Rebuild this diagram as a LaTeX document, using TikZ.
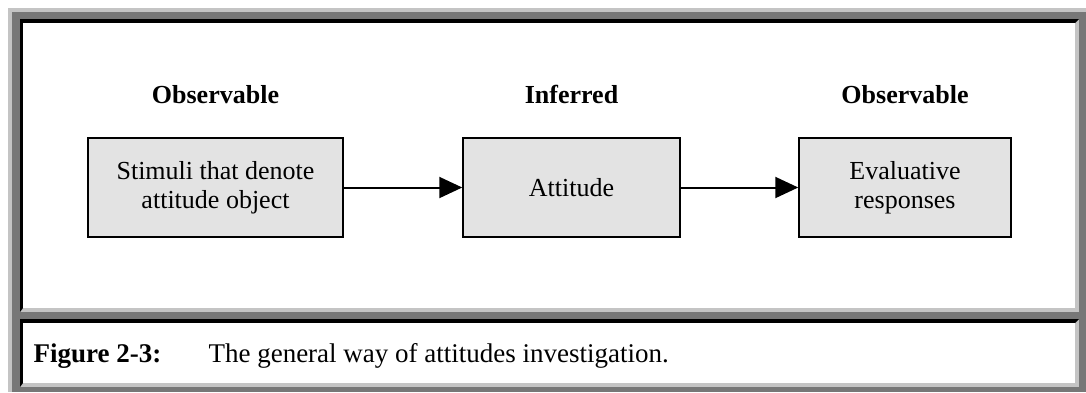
\documentclass[tikz,border=0pt]{standalone}
\usepackage{fontspec}
\setmainfont{Liberation Serif}
\usetikzlibrary{arrows.meta}
\definecolor{frameshade}{HTML}{777777}
\definecolor{framelight}{HTML}{C4C4C4}
\definecolor{boxfill}{HTML}{E3E3E3}

\begin{document}
\begin{tikzpicture}[x=1pt,y=-1pt,
  stagebox/.style={draw=black, line width=1.5pt, fill=boxfill, align=center,
    font=\fontsize{26}{29}\selectfont, inner sep=0pt, minimum height=99pt},
  heading/.style={font=\fontsize{26}{29}\selectfont\bfseries, anchor=base},
  captext/.style={font=\fontsize{27}{30}\selectfont, anchor=base west},
  flow/.style={line width=2pt, -{Triangle[length=23pt,width=21pt]}},
]
\useasboundingbox (0,0) rectangle (1086,392);
\fill[white] (0,0) rectangle (1086,392);

% outer raised frame
\fill[framelight] (8,8) rectangle (1086,392);
\fill[frameshade] (12,12) rectangle (1086,392);

% upper cell (sunken border)
\fill[framelight] (20,19) rectangle (1079,312);
\fill[black] (20,19) -- (1079,19) -- (1075,23) -- (23,23) -- (23,308) -- (20,312) -- cycle;
\fill[white] (23,23) rectangle (1075,308);

% lower cell (sunken border)
\fill[framelight] (20,319) rectangle (1079,387);
\fill[black] (20,319) -- (1079,319) -- (1075,323) -- (23,323) -- (23,383) -- (20,387) -- cycle;
\fill[white] (23,323) rectangle (1075,383);

% stages
\node[stagebox, minimum width=255pt] (b1) at (215.5,187.5) {Stimuli that denote\\attitude object};
\node[stagebox, minimum width=217pt] (b2) at (571.5,187.5) {Attitude};
\node[stagebox, minimum width=212pt] (b3) at (905,187.5) {Evaluative\\responses};

% column headings
\node[heading] (h1) at (b1.center |- 0,103) {Observable};
\node[heading] (h2) at (b2.center |- 0,103) {Inferred};
\node[heading] (h3) at (b3.center |- 0,103) {Observable};

\draw[flow] (b1.east) -- (b2.west);
\draw[flow] (b2.east) -- (b3.west);

% caption
\node[captext, font=\fontsize{27}{30}\selectfont\bfseries] (capnum) at (30,362) {Figure 2-3:};
\node[captext] (captitle) at (205,362) {The general way of attitudes investigation.};
\end{tikzpicture}
\end{document}
